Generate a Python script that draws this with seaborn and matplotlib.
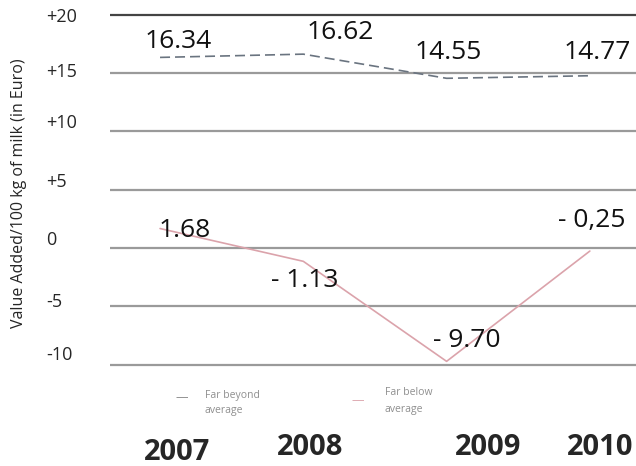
import pandas as pd
import matplotlib.pyplot as plt
import matplotlib.transforms as mtransforms
import seaborn as sns

# Data
years = ["2007", "2008", "2009", "2010"]
beyond = [16.34, 16.62, 14.55, 14.77]
below = [1.68, -1.13, -9.70, -0.25]
beyond_labels = ["16.34", "16.62", "14.55", "14.77"]
below_labels = ["1.68", "- 1.13", "- 9.70", "- 0,25"]
y_ticks = [-10, -5, 0, 5, 10, 15, 20]
y_tick_labels = ["-10", "-5", "0", "+5", "+10", "+15", "+20"]

df = pd.DataFrame({
    "pos": list(range(4)) * 2,
    "value": beyond + below,
    "series": ["Far beyond average"] * 4 + ["Far below average"] * 4,
})

sns.set_style("white")
plt.rcParams["font.family"] = ["Open Sans", "DejaVu Sans"]

fig = plt.figure(figsize=(6.36, 4.66), dpi=100)
ax = fig.add_axes([0.173, 0.192, 0.827, 0.789])

sns.lineplot(data=df, x="pos", y="value", hue="series", style="series",
             palette={"Far beyond average": "#6a7480", "Far below average": "#dba3ab"},
             dashes={"Far beyond average": (6, 3), "Far below average": ""},
             linewidth=1.2, legend=False, ax=ax)

ax.set_xlim(-0.349, 3.322)
ax.set_ylim(-11, 20.5)
ax.set_xticks([])
ax.set_xlabel("")
ax.set_yticks(y_ticks)
ax.set_yticklabels(y_tick_labels, fontsize=13, ha="left")
ax.tick_params(axis="y", length=0, pad=46)
# labels sit a little above their gridlines in the original
lift = [12, 6, 10, 10, 10, 3, 0]
for lab, d in zip(ax.get_yticklabels(), lift):
    lab.set_transform(lab.get_transform() +
                      mtransforms.ScaledTranslation(0, d / 100, fig.dpi_scale_trans))
for s in ax.spines.values():
    s.set_visible(False)
for t in y_ticks:
    ax.axhline(t, color="#444444" if t == 20 else "#9a9a9a", lw=1.6, zorder=0)

ax.set_ylabel("Value Added/100 kg of milk (in Euro)", fontsize=11.5)
ax.yaxis.set_label_coords(-0.158, 0.5)

# value annotations
beyond_xy = [(0.126, 17.7), (1.256, 18.5), (2.01, 16.8), (3.05, 16.8)]
below_xy = [(0.17, 1.5), (1.01, -2.8), (2.14, -7.9), (3.01, 2.4)]
for (x, y), s in zip(beyond_xy + below_xy, beyond_labels + below_labels):
    ax.text(x, y, s, fontsize=19, ha="center", va="center", color="#111111")

# year labels under the chart
year_x = [0.12, 1.05, 2.29, 3.07]
year_y = [0.03, 0.04, 0.04, 0.04]
trans = mtransforms.blended_transform_factory(ax.transData, fig.transFigure)
for x, yy, y in zip(year_x, year_y, years):
    ax.text(x, yy, y, transform=trans, fontsize=21, fontweight="bold",
            ha="center", va="center")

# faint legend
fig.text(0.286, 0.146, "—", color="#888888", fontsize=9, ha="center", va="center")
fig.text(0.322, 0.152, "Far beyond", color="#8f8f8f", fontsize=7.5, va="center")
fig.text(0.322, 0.119, "average", color="#8f8f8f", fontsize=7.5, va="center")
fig.text(0.563, 0.141, "—", color="#dba3ab", fontsize=9, ha="center", va="center")
fig.text(0.605, 0.157, "Far below", color="#8f8f8f", fontsize=7.5, va="center")
fig.text(0.605, 0.121, "average", color="#8f8f8f", fontsize=7.5, va="center")

fig.savefig("out.png", dpi=100)
